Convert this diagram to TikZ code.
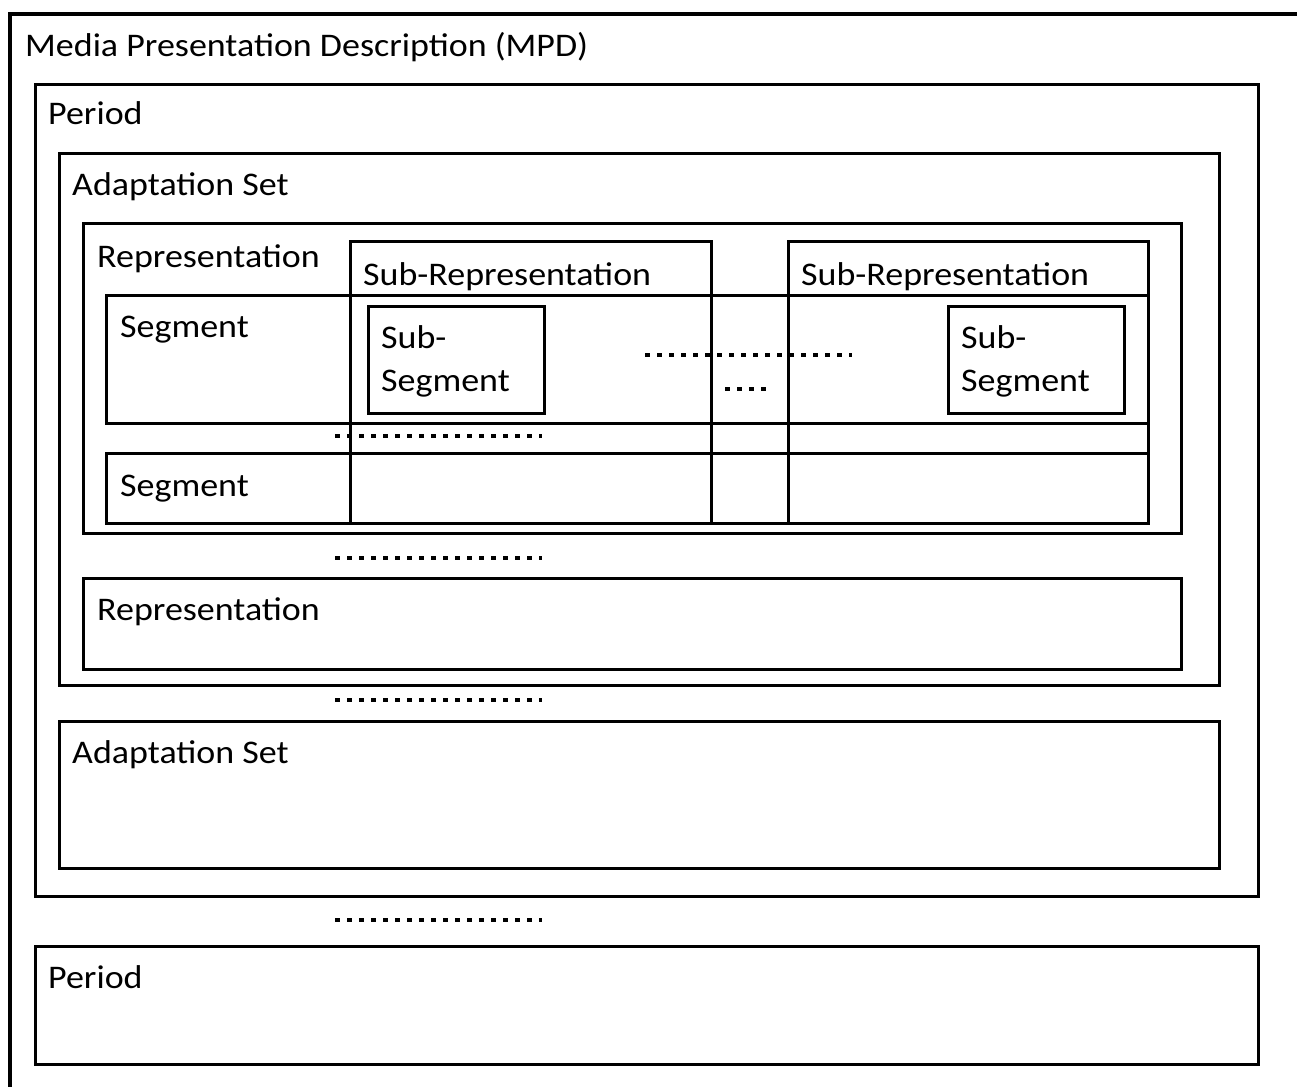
\documentclass[tikz,border=0pt]{standalone}
\usepackage{fontspec}
\setmainfont{Carlito}[FakeStretch=1.09]
\begin{document}
\begin{tikzpicture}[x=1pt,y=-1pt,
  box/.style={draw=black, line width=2.6pt, fill=none, inner sep=0pt, anchor=north west},
  lbl/.style={anchor=base west, inner sep=0pt, font=\fontsize{33}{39}\selectfont},
  dots/.style={line width=4.5pt, dash pattern=on 5pt off 7pt}]
\useasboundingbox (0,0) rectangle (1297,1086);
% MPD outer (open to right and bottom)
\draw[line width=3.6pt] (10,1090) -- (10,14) -- (1300,14);
\node[lbl] (tmpd) at (25,57) {Media Presentation Description (MPD)};
% Period 1
\node[box, minimum width=1223pt, minimum height=812pt] (per1) at (34,83) {};
\node[lbl] (tper1) at (48,125) {Period};
% Adaptation set 1
\node[box, minimum width=1160pt, minimum height=532pt] (as1) at (58,152) {};
\node[lbl] (tas1) at (72,195) {Adaptation Set};
% Representation 1
\node[box, minimum width=1098pt, minimum height=310pt] (rep1) at (82,222) {};
\node[lbl] (trep1) at (97,267) {Representation};
% Segments
\node[box, minimum width=1042pt, minimum height=128pt] (seg1) at (105,294) {};
\node[lbl] (tseg1) at (120,337) {Segment};
\node[box, minimum width=1042pt, minimum height=70pt] (seg2) at (105,452) {};
\node[lbl] (tseg2) at (120,496) {Segment};
% Sub-Representations
\node[box, minimum width=361pt, minimum height=282pt] (sr1) at (349,240) {};
\node[lbl] (tsr1) at (363,285) {Sub-Representation};
\node[box, minimum width=360pt, minimum height=282pt] (sr2) at (787,240) {};
\node[lbl] (tsr2) at (801,285) {Sub-Representation};
% Sub-Segments
\node[box, minimum width=176pt, minimum height=107pt] (ss1) at (367,305) {};
\node[lbl] (tss1a) at (381,348) {Sub-};
\node[lbl] (tss1b) at (381,391) {Segment};
\node[box, minimum width=176pt, minimum height=107pt] (ss2) at (947,305) {};
\node[lbl] (tss2a) at (961,348) {Sub-};
\node[lbl] (tss2b) at (961,391) {Segment};
% Representation 2
\node[box, minimum width=1098pt, minimum height=91pt] (rep2) at (82,577) {};
\node[lbl] (trep2) at (97,620) {Representation};
% Adaptation set 2
\node[box, minimum width=1160pt, minimum height=147pt] (as2) at (58,720) {};
\node[lbl] (tas2) at (72,763) {Adaptation Set};
% Period 2
\node[box, minimum width=1223pt, minimum height=118pt] (per2) at (34,945) {};
\node[lbl] (tper2) at (48,988) {Period};
% dotted ellipses
\draw[dots] (335,436) -- (542,436);
\draw[dots] (645,355) -- (852,355);
\draw[dots] (725,389) -- (768,389);
\draw[dots] (335,558) -- (542,558);
\draw[dots] (335,700) -- (542,700);
\draw[dots] (335,920) -- (542,920);
\end{tikzpicture}
\end{document}
